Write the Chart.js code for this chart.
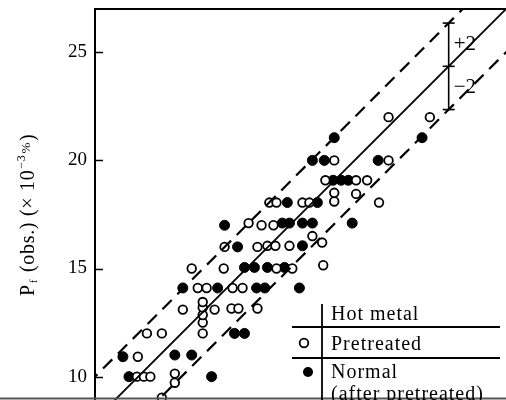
<!DOCTYPE html>
<html>
<head>
<meta charset="utf-8">
<script src="https://cdn.jsdelivr.net/npm/chart.js@4.4.1/dist/chart.umd.min.js"></script>
<style>
  body { margin: 0; background: #fff; }
  canvas { display: block; }
</style>
</head>
<body>
<canvas id="chart" width="506" height="400"></canvas>
<script>
// Tick labels on the P(obs.) axis
const yTicks = [10, 15, 20, 25];

// Pretreated hot metal (open circles): x = calc, y = obs
const pretreatedX = [9.94, 10.26, 10.56, 11.69, 11.69, 11.09, 9.98, 10.40, 11.09, 12.98,
    12.98, 12.98, 12.98, 12.98, 12.06, 13.53, 14.31, 14.63, 15.51, 12.75,
    13.16, 14.36, 14.82, 12.47, 13.95, 16.39, 17.12, 18.55, 13.99, 15.51,
    15.97, 16.34, 16.99, 18.05, 18.50, 15.10, 15.70, 16.25, 16.06, 16.39,
    17.59, 17.91, 19.06, 19.06, 20.07, 21.13, 18.65, 20.07, 20.58, 19.06,
    21.57, 21.57, 23.48];
const pretreatedY = [10.0, 10.0, 10.0, 10.14, 9.72, 9.03, 10.92, 12.0, 12.0, 12.0,
    12.5, 12.85, 13.2, 13.45, 13.1, 13.1, 13.15, 13.15, 13.15, 14.1,
    14.1, 14.1, 14.1, 15.0, 15.0, 15.0, 15.0, 15.15, 16.0, 16.0,
    16.05, 16.05, 16.05, 16.5, 16.2, 17.1, 17.0, 17.0, 18.05, 18.05,
    18.05, 18.05, 18.1, 18.5, 18.45, 18.05, 19.08, 19.08, 19.08, 20.0,
    20.0, 22.0, 22.0];

// Normal hot metal, after pretreated (filled circles)
const normalX = [9.57, 13.39, 9.29, 11.69, 12.47, 14.45, 14.91, 12.06, 13.67, 15.47,
    15.85, 17.45, 14.91, 15.37, 15.97, 16.76, 14.59, 17.59, 13.99, 16.66,
    16.99, 17.59, 18.05, 19.89, 16.89, 18.28, 19.01, 19.38, 19.71, 18.05,
    18.60, 21.09, 19.06, 23.12];
const normalY = [10.0, 10.0, 10.92, 11.0, 11.0, 12.0, 12.0, 14.1, 14.1, 14.1,
    14.1, 14.1, 15.05, 15.05, 15.05, 15.05, 16.0, 16.05, 17.0, 17.1,
    17.1, 17.1, 17.1, 17.1, 18.05, 18.05, 19.08, 19.08, 19.08, 20.0,
    20.0, 20.0, 21.05, 21.05];

// Reference lines: obs = calc, obs = calc +/- 2
const lineX = [7, 28];
const centreY = [7, 28];
const upperY = [9, 30];
const lowerY = [5, 26];

// +/-2 bar
const errX = [24.35, 24.35, 24.35];
const errY = [22.35, 24.35, 26.35];
const errLabels = ['+2', '\u22122'];

const legendTitle = 'Hot metal';
const legendLabels = ['Pretreated', 'Normal', '(after pretreated)'];

const toPoints = (xs, ys) => xs.map((v, i) => ({ x: v, y: ys[i] }));

const serif = '"Liberation Serif", "DejaVu Serif", serif';

const decor = {
    id: 'decor',
    afterDraw(chart) {
        const { ctx, chartArea: a, scales: { x, y } } = chart;
        ctx.save();
        ctx.strokeStyle = '#000';
        ctx.fillStyle = '#000';

        // top frame line
        ctx.lineWidth = 2;
        ctx.beginPath();
        ctx.moveTo(a.left - 1, a.top);
        ctx.lineTo(a.right, a.top);
        ctx.stroke();

        // inward tick marks
        ctx.beginPath();
        yTicks.forEach((v) => {
            const py = Math.round(y.getPixelForValue(v)) + 0.5;
            ctx.moveTo(a.left, py);
            ctx.lineTo(a.left + 8, py);
        });
        ctx.lineWidth = 1.5;
        ctx.stroke();

        // scan edge at the bottom
        ctx.strokeStyle = '#555';
        ctx.lineWidth = 2;
        ctx.beginPath();
        ctx.moveTo(0, 398.5);
        ctx.lineTo(chart.width, 398.5);
        ctx.stroke();
        ctx.strokeStyle = '#000';

        // +2 / -2 labels
        ctx.font = '21px ' + serif;
        ctx.textBaseline = 'middle';
        ctx.textAlign = 'left';
        const ex = x.getPixelForValue(errX[0]) + 5;
        ctx.fillText(errLabels[0], ex, y.getPixelForValue((errY[1] + errY[2]) / 2));
        ctx.fillText(errLabels[1], ex, y.getPixelForValue((errY[0] + errY[1]) / 2));

        // y axis title
        ctx.save();
        ctx.translate(34, 296);
        ctx.rotate(-Math.PI / 2);
        ctx.textBaseline = 'alphabetic';
        let cx = 0;
        const parts = [
            { t: 'P', s: 20, dy: 0 },
            { t: 'f', s: 11, dy: 3 },
            { t: ' (obs.) (\u00d7 10', s: 20, dy: 0 },
            { t: '\u22123', s: 12, dy: -9 },
            { t: '%', s: 13, dy: -4 },
            { t: ')', s: 20, dy: 0 },
        ];
        ctx.letterSpacing = '0.7px';
        parts.forEach((p) => {
            ctx.font = p.s + 'px ' + serif;
            ctx.fillText(p.t, cx, p.dy);
            cx += ctx.measureText(p.t).width + 1;
        });
        ctx.restore();

        // legend table
        ctx.lineWidth = 1.8;
        ctx.beginPath();
        ctx.moveTo(322, 304);
        ctx.lineTo(322, 400);
        ctx.moveTo(292, 327);
        ctx.lineTo(500, 327);
        ctx.moveTo(292, 358);
        ctx.lineTo(500, 358);
        ctx.stroke();

        ctx.font = '20px ' + serif;
        ctx.letterSpacing = '1px';
        ctx.textBaseline = 'alphabetic';
        ctx.fillText(legendTitle, 331, 320);
        ctx.fillText(legendLabels[0], 331, 350);
        ctx.fillText(legendLabels[1], 331, 378);
        ctx.fillText(legendLabels[2], 331, 400);
        ctx.letterSpacing = '0px';

        ctx.lineWidth = 1.8;
        ctx.beginPath();
        ctx.arc(304, 343, 4.3, 0, Math.PI * 2);
        ctx.stroke();
        ctx.beginPath();
        ctx.arc(308, 372, 5, 0, Math.PI * 2);
        ctx.fill();

        ctx.restore();
    }
};

new Chart(document.getElementById('chart'), {
    type: 'scatter',
    data: {
        datasets: [
            {
                data: toPoints(lineX, centreY),
                showLine: true, pointRadius: 0,
                borderColor: '#000', borderWidth: 1.8, clip: 0,
            },
            {
                data: toPoints(lineX, upperY),
                showLine: true, pointRadius: 0,
                borderColor: '#000', borderWidth: 2.2, borderDash: [13, 8], clip: 0,
            },
            {
                data: toPoints(lineX, lowerY),
                showLine: true, pointRadius: 0,
                borderColor: '#000', borderWidth: 2.2, borderDash: [13, 8], clip: 0,
            },
            {
                data: toPoints(errX, errY),
                showLine: true, pointStyle: 'line', pointRadius: 6,
                borderColor: '#000', borderWidth: 1.6, clip: 0,
            },
            {
                data: toPoints(pretreatedX, pretreatedY),
                pointStyle: 'circle', pointRadius: 4.3,
                backgroundColor: '#fff', borderColor: '#000', borderWidth: 1.8,
            },
            {
                data: toPoints(normalX, normalY),
                pointStyle: 'circle', pointRadius: 5,
                backgroundColor: '#000', borderColor: '#000', borderWidth: 1,
            },
        ],
    },
    options: {
        responsive: false,
        animation: false,
        layout: { autoPadding: false, padding: { top: 9, left: 0, right: 0, bottom: 0 } },
        plugins: {
            legend: { display: false },
            tooltip: { enabled: false },
        },
        scales: {
            x: { type: 'linear', display: false, min: 8, max: 27 },
            y: {
                min: 8.92,
                max: 27,
                afterFit(scale) {
                    scale.width = 95;
                    scale.paddingTop = 0;
                    scale.paddingBottom = 0;
                },
                afterBuildTicks(scale) { scale.ticks = yTicks.map((v) => ({ value: v })); },
                ticks: {
                    font: { family: serif, size: 19 },
                    color: '#000',
                    padding: 8,
                },
                grid: { drawOnChartArea: false, drawTicks: false },
                border: { color: '#000', width: 2 },
            },
        },
    },
    plugins: [decor],
});
</script>
</body>
</html>
